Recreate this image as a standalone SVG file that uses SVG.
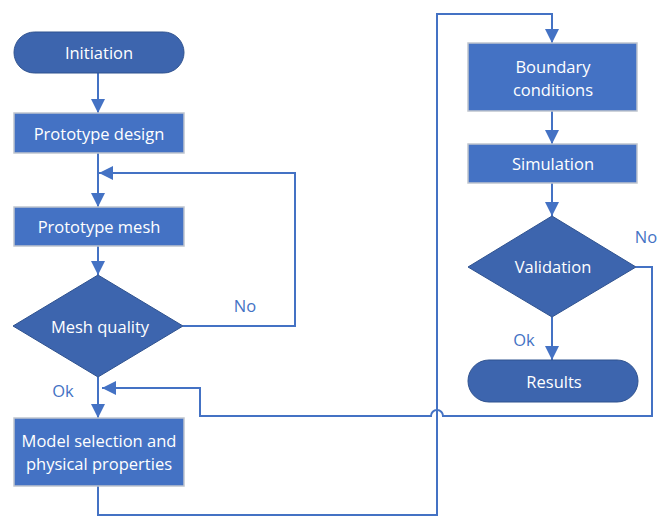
<svg xmlns="http://www.w3.org/2000/svg" width="657" height="517" viewBox="0 0 657 517">
<style>
.box{fill:#4472C4;stroke:#BFC5CE;stroke-width:1.5}
.dark{fill:#3D65AE;stroke:#2F528F;stroke-width:1}
.t{font-family:"Open Sans","Liberation Sans",sans-serif;font-size:16.5px;fill:#fff;text-anchor:middle;dominant-baseline:central}
.lbl{font-family:"Open Sans","Liberation Sans",sans-serif;font-size:16.5px;fill:#4472C4;text-anchor:middle;dominant-baseline:central}
.c{fill:none;stroke:#4472C4;stroke-width:2}
</style>
<defs>
<marker id="a" markerWidth="14" markerHeight="14" refX="14" refY="7" orient="auto" markerUnits="userSpaceOnUse">
<path d="M0,0 L14,7 L0,14 Z" fill="#4472C4"/>
</marker>
</defs>
<rect width="657" height="517" fill="#fff"/>
<g id="connectors">
<path class="c" d="M98,73 V113" marker-end="url(#a)"/>
<path class="c" d="M98,153 V207" marker-end="url(#a)"/>
<path class="c" d="M98,246 V275" marker-end="url(#a)"/>
<path class="c" d="M183,326 H295 V173 H99" marker-end="url(#a)"/>
<path class="c" d="M98,377 V418" marker-end="url(#a)"/>
<path class="c" d="M98,486 V515 H437 V14 H552 V43" marker-end="url(#a)"/>
<path class="c" d="M552,111 V144" marker-end="url(#a)"/>
<path class="c" d="M552,183 V216" marker-end="url(#a)"/>
<path class="c" d="M552,317 V360" marker-end="url(#a)"/>
<path class="c" d="M636,267 H652 V416 H443 A6,6 0 0 0 431,416 H200 V388 H102" marker-end="url(#a)"/>
</g>
<g id="initiation"><rect class="dark" x="14" y="32" width="170" height="41" rx="20.5"/><text class="t" x="99" y="52">Initiation</text></g>
<g id="prototype-design"><rect class="box" x="14" y="113" width="170" height="40"/><text class="t" x="99" y="133">Prototype design</text></g>
<g id="prototype-mesh"><rect class="box" x="14" y="207" width="170" height="39"/><text class="t" x="99" y="226">Prototype mesh</text></g>
<g id="mesh-quality"><polygon class="dark" points="98,275 183,326 98,377 13,326"/><text class="t" x="100" y="326">Mesh quality</text></g>
<g id="model-selection"><rect class="box" x="14" y="418" width="170" height="68"/><text class="t" x="99" y="440">Model selection and</text><text class="t" x="99" y="463">physical properties</text></g>
<g id="boundary-conditions"><rect class="box" x="468" y="43" width="169" height="68"/><text class="t" x="553" y="66">Boundary</text><text class="t" x="553" y="89">conditions</text></g>
<g id="simulation"><rect class="box" x="468" y="144" width="169" height="39"/><text class="t" x="553" y="163">Simulation</text></g>
<g id="validation"><polygon class="dark" points="552,216 636,267 552,317 468,267"/><text class="t" x="553" y="266">Validation</text></g>
<g id="results"><rect class="dark" x="468" y="360" width="170" height="42" rx="21"/><text class="t" x="554" y="381">Results</text></g>
<g id="labels">
<text class="lbl" x="245" y="305">No</text>
<text class="lbl" x="63" y="390">Ok</text>
<text class="lbl" x="646" y="236">No</text>
<text class="lbl" x="524" y="339">Ok</text>
</g>
</svg>
